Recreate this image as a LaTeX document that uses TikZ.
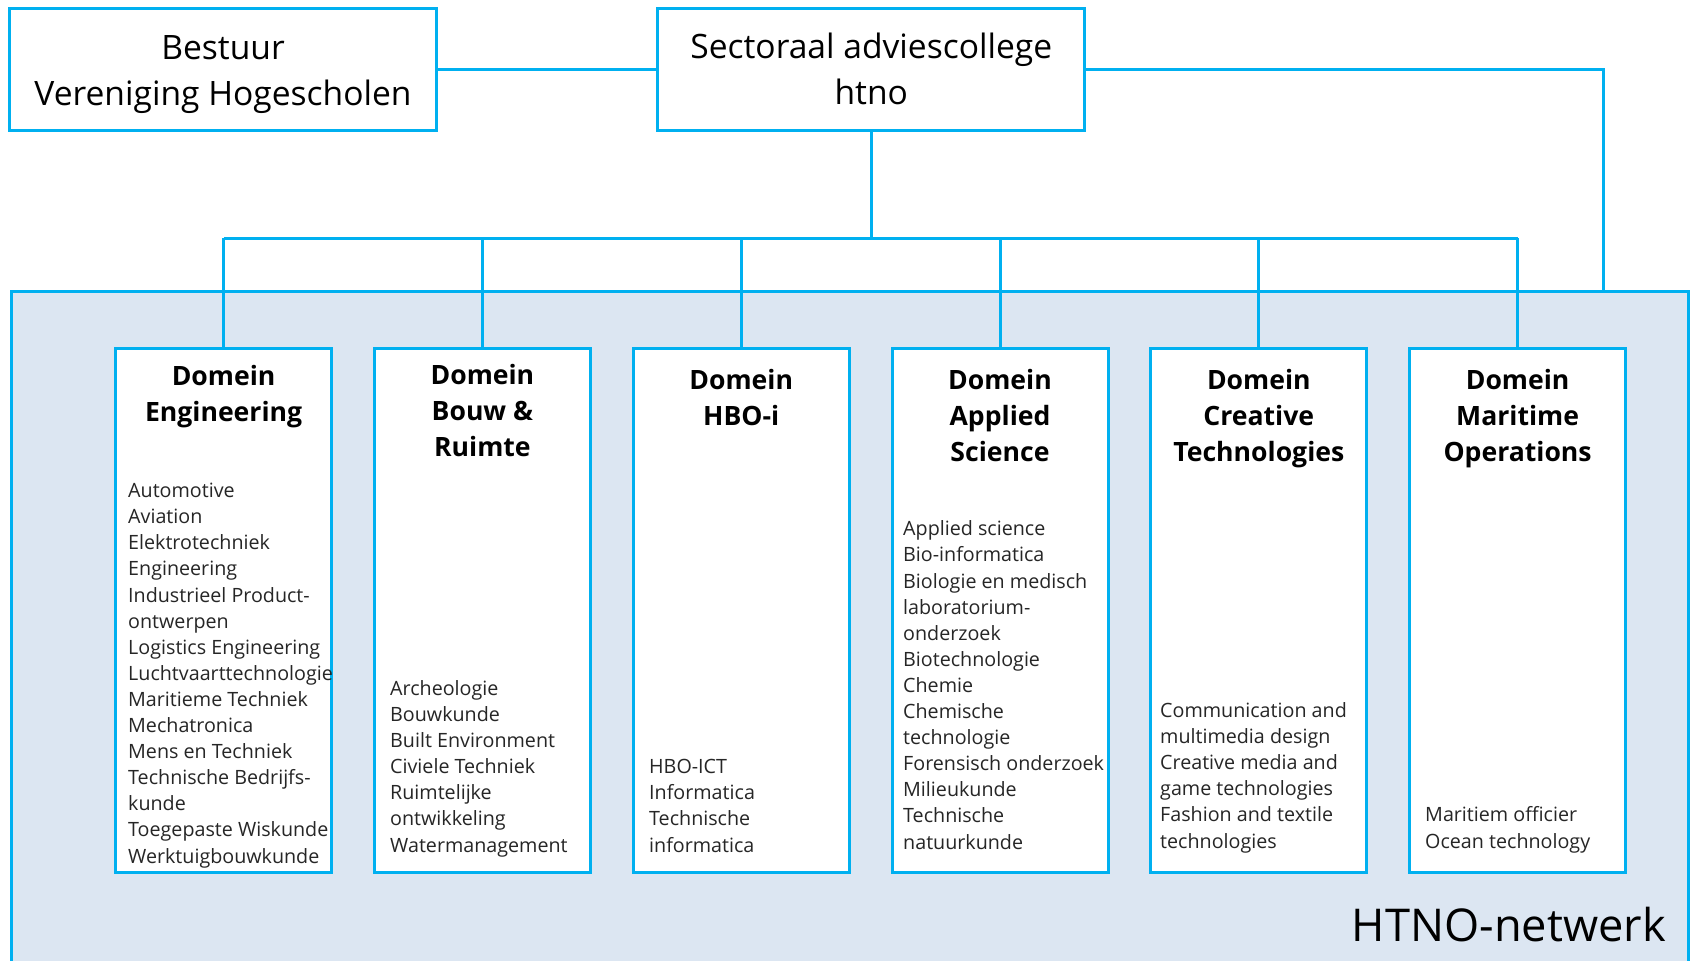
\documentclass[tikz,border=0pt]{standalone}
\usepackage{fontspec}
\setmainfont{Open Sans}
\definecolor{cy}{HTML}{00B0F0}
\definecolor{bgc}{HTML}{DCE6F2}
\definecolor{bodytxt}{HTML}{262626}
\tikzset{
  link/.style={draw=cy, line width=3pt},
  topbox/.style={draw=cy, line width=3pt, fill=white, minimum width=427pt, minimum height=122pt, inner sep=0pt},
  toptext/.style={align=center, inner sep=0pt, font=\fontsize{33.6}{46}\selectfont},
  netbox/.style={draw=cy, line width=3pt, fill=bgc, anchor=north west, minimum width=1677pt, minimum height=700pt, inner sep=0pt},
  dombox/.style={draw=cy, line width=3pt, fill=white, minimum width=216pt, minimum height=524pt, inner sep=0pt},
  domhead/.style={anchor=base, align=center, inner sep=0pt, font=\bfseries\fontsize{26.6}{36}\selectfont},
  domlist/.style={anchor=base west, align=left, inner sep=0pt, text=bodytxt, font=\fontsize{19.7}{26.1}\selectfont},
  netlabel/.style={anchor=base east, inner sep=0pt, font=\fontsize{45.2}{50}\selectfont}
}
\begin{document}
\begin{tikzpicture}[x=1pt,y=-1pt]
\useasboundingbox (0,0) rectangle (1690,961);
\node[netbox] (net) at (9.7,290) {};
\node[topbox] (bestuur) at (223,69.5) {};
\node[topbox] (sac) at (871.3,69.5) {};
\node[toptext] (bt) at (223,74.5) {Bestuur\\Vereniging Hogescholen};
\node[toptext] (st) at (871.3,72.5) {Sectoraal adviescollege\\htno\vphantom{g}};
\coordinate (bus) at (871.3,238);
\coordinate (netin) at (1603.7,290);
\draw[link] (bestuur.east) -- (sac.west);
\draw[link] (sac.east) -| (netin);
\draw[link] (sac.south) -- (bus);
\foreach \i/\x in {1/223.6,2/482.4,3/741.2,4/1000,5/1258.8,6/1517.6}{
  \node[dombox] (d\i) at (\x,610) {};
}
\draw[link] (d1.north |- bus) -- (d6.north |- bus);
\foreach \i in {1,...,6}{
  \draw[link] (d\i.north |- bus) -- (d\i.north);
}
\node[domhead] (h1) at (223.6,421) {Domein\\Engineering};
\node[domhead] (h2) at (482.4,456) {Domein\\Bouw \&\\Ruimte};
\node[domhead] (h3) at (741.2,425) {Domein\\HBO-i};
\node[domhead] (h4) at (1000,461) {Domein\\Applied\\Science};
\node[domhead] (h5) at (1258.8,461) {Domein\\Creative\\Technologies};
\node[domhead] (h6) at (1517.6,461) {Domein\\Maritime\\Operations};
\node[domlist] (l1) at (128,863) {Automotive\\Aviation\\Elektrotechniek\\Engineering\\Industrieel Product-\\ontwerpen\\Logistics Engineering\\Luchtvaarttechnologie\\Maritieme Techniek\\Mechatronica\\Mens en Techniek\\Technische Bedrijfs-\\kunde\\Toegepaste Wiskunde\\Werktuigbouwkunde};
\node[domlist] (l2) at (390,852) {Archeologie\\Bouwkunde\\Built Environment\\Civiele Techniek\\Ruimtelijke\\ontwikkeling\\Watermanagement};
\node[domlist] (l3) at (649,852) {HBO-ICT\\Informatica\\Technische\\informatica};
\node[domlist] (l4) at (903,849) {Applied science\\Bio-informatica\\Biologie en medisch\\laboratorium-\\onderzoek\\Biotechnologie\\Chemie\\Chemische\\technologie\\Forensisch onderzoek\\Milieukunde\\Technische\\natuurkunde};
\node[domlist] (l5) at (1160,848) {Communication and\\multimedia design\\Creative media and\\game technologies\\Fashion and textile\\technologies};
\node[domlist] (l6) at (1425,848) {Maritiem officier\\Ocean technology};
\node[netlabel] (nl) at (1666,941) {HTNO-netwerk};
\end{tikzpicture}
\end{document}
